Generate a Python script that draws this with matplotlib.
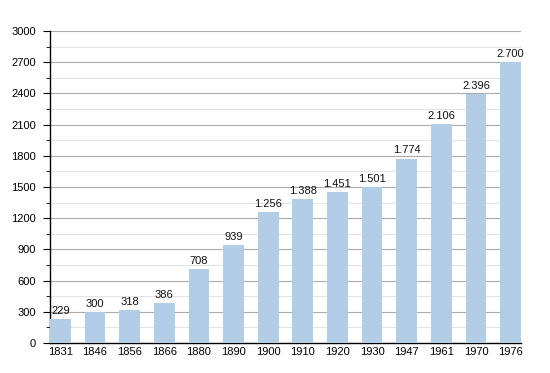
import matplotlib.pyplot as plt
import numpy as np
from matplotlib.ticker import MultipleLocator

years = ['1831', '1846', '1856', '1866', '1880', '1890', '1900',
         '1910', '1920', '1930', '1947', '1961', '1970', '1976']
population = [229, 300, 318, 386, 708, 939, 1256,
              1388, 1451, 1501, 1774, 2106, 2396, 2700]
value_labels = ['229', '300', '318', '386', '708', '939', '1.256',
                '1.388', '1.451', '1.501', '1.774', '2.106', '2.396', '2.700']

plt.rcParams['font.family'] = ['Liberation Sans', 'DejaVu Sans']

fig = plt.figure(figsize=(5.5, 3.73), dpi=100)
ax = fig.add_axes([50 / 550, 1 - 343 / 373, 471 / 550, 312 / 373])

x = np.arange(len(years))
ax.bar(x, population, width=0.6, color='#b3cde6', zorder=3)

for xi, v, lbl in zip(x, population, value_labels):
    ax.text(xi, v + 30, lbl, ha='center', va='bottom', fontsize=8,
            color='#111111', zorder=4)

ax.set_xlim(-0.3, len(years) - 0.7)
ax.set_ylim(0, 3000)
ax.yaxis.set_major_locator(MultipleLocator(300))
ax.yaxis.set_minor_locator(MultipleLocator(150))
ax.set_xticks(x)
ax.set_xticklabels(years)

# grid lines
ax.grid(axis='y', which='major', color='#ababab', lw=0.8, zorder=1)
ax.grid(axis='y', which='minor', color='#e4e4e4', lw=0.8, zorder=1)
ax.grid(axis='x', visible=False)

# frame
for side in ['top', 'right']:
    ax.spines[side].set_visible(False)
ax.spines['left'].set_linewidth(1.0)
ax.spines['bottom'].set_linewidth(1.0)

ax.tick_params(axis='y', which='major', length=5, labelsize=8, pad=5)
ax.tick_params(axis='y', which='minor', length=3)
ax.tick_params(axis='x', length=0, labelsize=8, pad=3)

fig.savefig('out.png', dpi=100)
